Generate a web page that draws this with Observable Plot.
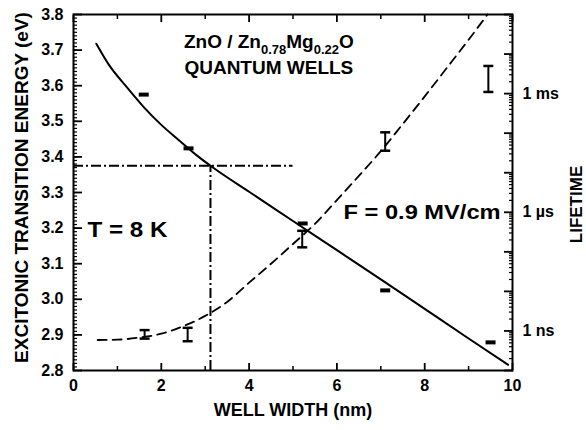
<!DOCTYPE html>
<html><head><meta charset="utf-8">
<script src="https://cdn.jsdelivr.net/npm/d3@7"></script>
<script src="https://cdn.jsdelivr.net/npm/@observablehq/plot@0.6"></script>
<style>
html,body{margin:0;padding:0;background:#fff;}
#chart{position:relative;width:586px;height:430px;}
#chart svg{position:absolute;left:0;top:0;}
</style></head><body><div id="chart"></div>
<script>
// ---- data ----
const energyWidths = [1.6, 2.62, 5.22, 7.1, 9.5];          // nm
const energyValues = [3.575, 3.424, 3.213, 3.025, 2.879];   // eV

const lifeWidths = [1.62, 2.6, 5.21, 7.1, 9.45];            // nm
const lifeLow  = [6.4e-10, 5.5e-10, 1.3e-7, 3.6e-5, 1.1e-3]; // s
const lifeHigh = [1.05e-9, 1.2e-9, 3.4e-7, 1.05e-4, 5.0e-3]; // s

const fitWidths   = [0.52, 0.8, 1.2, 1.6, 2.0, 2.4, 2.8, 3.2, 4.0, 5.0, 6.0, 7.0, 8.0, 9.0, 9.9];
const fitEnergies = [3.718, 3.66, 3.598, 3.54, 3.49, 3.447, 3.405, 3.368, 3.302, 3.22, 3.138, 3.056, 2.973, 2.89, 2.816];

const lifeFitWidths = [0.55, 1.0, 1.5, 2.0, 2.5, 3.0, 3.5, 4.0, 4.5, 5.0, 5.5, 6.0, 6.5, 7.0, 7.5, 8.0, 8.5, 9.0, 9.43];
const lifeFitValues = [5.9e-10, 6.0e-10, 6.8e-10, 8.5e-10, 1.32e-9, 2.4e-9, 5.4e-9, 1.66e-8, 5.0e-8, 1.58e-7, 5.1e-7, 2.04e-6, 8.3e-6, 3.5e-5, 1.7e-4, 8.5e-4, 4.4e-3, 2.3e-2, 1.0e-1];

const guideWidth = [3.12];     // nm
const guideEnergy = [3.375];   // eV
const guideEndWidth = [5.0];   // nm

const xMajorTicks = [0, 2, 4, 6, 8, 10];
const xMinorTicks = [1, 3, 5, 7, 9];
const yMajorTicks = [2.8, 2.9, 3.0, 3.1, 3.2, 3.3, 3.4, 3.5, 3.6, 3.7, 3.8];
const yMinorTicks = d3.range(281, 380).map(d => d / 100);
const lifeLabelTicks = [1e-9, 1e-6, 1e-3];
const lifeLabelTexts = ["1 ns", "1 \u00b5s", "1 ms"];
const lifeDecades = [1e-10, 1e-9, 1e-8, 1e-7, 1e-6, 1e-5, 1e-4, 1e-3, 1e-2, 1e-1];
const lifeMinorTicks = lifeDecades.slice(0, -1).flatMap(d => [2,3,4,5,6,7,8,9].map(k => k * d));

const annotations = [
  {w: 4.45, e: 3.724, t: "ZnO / Zn0.78Mg0.22O", size: 19},
  {w: 4.45, e: 3.650, t: "QUANTUM WELLS", size: 19},
  {w: 1.23, e: 3.196, t: "T = 8 K", size: 22},
  {w: 7.94, e: 3.245, t: "F = 0.9 MV/cm", size: 21}
];

// ---- table building ----
const energyPts = energyWidths.map((w, i) => ({w, e: energyValues[i]}));
const lifePts = lifeWidths.map((w, i) => ({w, lo: lifeLow[i], hi: lifeHigh[i]}));
const fitPts = fitWidths.map((w, i) => ({w, e: fitEnergies[i]}));
const lifeFitPts = lifeFitWidths.map((w, i) => ({w, t: lifeFitValues[i]}));
const lifeLabelMap = new Map(lifeLabelTicks.map((t, i) => [t, lifeLabelTexts[i]]));

const FONT = "'Liberation Sans', Arial, Helvetica, sans-serif";
const common = {
  width: 586, height: 430,
  marginLeft: 73, marginRight: 74, marginTop: 14, marginBottom: 60,
  x: {domain: [0, 10]},
  style: {fontFamily: FONT, background: "transparent", color: "black", overflow: "visible"}
};

const dashSymbol = {draw(ctx) { ctx.moveTo(-5, -2); ctx.lineTo(5, -2); ctx.lineTo(5, 2); ctx.lineTo(-5, 2); ctx.closePath(); }};
const capSymbol = {draw(ctx) { ctx.moveTo(-5, 0); ctx.lineTo(5, 0); }};

const energyPlot = Plot.plot({
  ...common,
  y: {domain: [2.8, 3.8]},
  marks: [
    Plot.axisY({ticks: yMinorTicks, anchor: "left", tickSize: -4, text: null, label: null, strokeWidth: 1.2}),
    Plot.axisY({ticks: yMajorTicks, anchor: "left", tickSize: -9, tickPadding: 19, tickFormat: d3.format(".1f"),
      label: null, strokeWidth: 1.8, fontSize: 16, fontWeight: "bold"}),
    Plot.axisX({ticks: xMinorTicks, anchor: "bottom", tickSize: -4, text: null, label: null, strokeWidth: 1.5}),
    Plot.axisX({ticks: xMajorTicks, anchor: "bottom", tickSize: -7, tickPadding: 16, tickFormat: d => String(d),
      label: null, strokeWidth: 1.8, fontSize: 16, fontWeight: "bold"}),
    Plot.axisX({ticks: xMinorTicks, anchor: "top", tickSize: -4, text: null, label: null, strokeWidth: 1.5}),
    Plot.axisX({ticks: xMajorTicks, anchor: "top", tickSize: -7, text: null, label: null, strokeWidth: 1.8}),
    Plot.frame({strokeWidth: 2}),
    Plot.ruleY(guideEnergy, {y: d => d, x1: 0, x2: guideEndWidth[0], strokeWidth: 2, strokeDasharray: "10,3,2,3"}),
    Plot.ruleX(guideWidth, {x: d => d, y1: 2.8, y2: guideEnergy[0], strokeWidth: 2, strokeDasharray: "10,3,2,3"}),
    Plot.line(fitPts, {x: "w", y: "e", curve: "monotone-x", strokeWidth: 2}),
    Plot.dot(energyPts, {x: "w", y: "e", symbol: dashSymbol, fill: "black", stroke: "none"}),
    ...annotations.map(a => Plot.text([a], {x: "w", y: "e", text: "t", fontSize: a.size, fontWeight: "bold", textAnchor: "middle", lineAnchor: "middle"})),
    Plot.text(["EXCITONIC TRANSITION ENERGY (eV)"], {frameAnchor: "left", textAnchor: "middle", lineAnchor: "middle", rotate: -90, dx: -52, dy: -5, fontSize: 19, fontWeight: "bold"}),
    Plot.text(["WELL WIDTH (nm)"], {frameAnchor: "bottom", textAnchor: "middle", lineAnchor: "middle", dy: 40, fontSize: 18, fontWeight: "bold"})
  ]
});

const lifePlot = Plot.plot({
  ...common,
  x: {domain: [0, 10], axis: null},
  y: {type: "log", domain: [1e-10, 1e-1]},
  marks: [
    Plot.axisY({ticks: lifeMinorTicks, anchor: "right", tickSize: -4, text: null, label: null, strokeWidth: 1.2}),
    Plot.axisY({ticks: lifeDecades, anchor: "right", tickSize: -9, text: null, label: null, strokeWidth: 1.8}),
    Plot.axisY({ticks: lifeLabelTicks, anchor: "right", tickSize: 0, tickPadding: 10, tickFormat: d => lifeLabelMap.get(d),
      label: null, fontSize: 16, fontWeight: "bold"}),
    Plot.line(lifeFitPts, {x: "w", y: "t", curve: "monotone-x", strokeWidth: 1.8, strokeDasharray: "9,6"}),
    Plot.ruleX(lifePts, {x: "w", y1: "lo", y2: "hi", strokeWidth: 2}),
    Plot.dot(lifePts, {x: "w", y: "lo", symbol: capSymbol, stroke: "black", strokeWidth: 2.5, fill: "none"}),
    Plot.dot(lifePts, {x: "w", y: "hi", symbol: capSymbol, stroke: "black", strokeWidth: 2.5, fill: "none"}),
    Plot.text(["LIFETIME"], {frameAnchor: "right", textAnchor: "middle", lineAnchor: "middle", rotate: -90, dx: 64, dy: 12, fontSize: 17, fontWeight: "bold"})
  ]
});

const chart = document.getElementById("chart");
chart.appendChild(energyPlot);
chart.appendChild(lifePlot);

// subscripts in the sample label
d3.select(energyPlot).selectAll("text").filter(function() { return this.textContent === "ZnO / Zn0.78Mg0.22O"; })
  .each(function() {
    const t = d3.select(this);
    t.text(null);
    const parts = [["ZnO / Zn", 0, null], ["0.78", 6, 13], ["Mg", -6, null], ["0.22", 6, 13], ["O", -6, null]];
    parts.forEach(([s, dy, fs]) => {
      const sp = t.append("tspan").text(s);
      if (dy) sp.attr("dy", dy);
      if (fs) sp.attr("font-size", fs);
    });
  });
d3.select(energyPlot).selectAll("text").filter(function() { return this.textContent === "F = 0.9 MV/cm"; })
  .attr("textLength", 157).attr("lengthAdjust", "spacingAndGlyphs");
d3.select(energyPlot).selectAll("text").filter(function() { return this.textContent === "T = 8 K"; })
  .attr("textLength", 80).attr("lengthAdjust", "spacingAndGlyphs");
</script></body></html>
